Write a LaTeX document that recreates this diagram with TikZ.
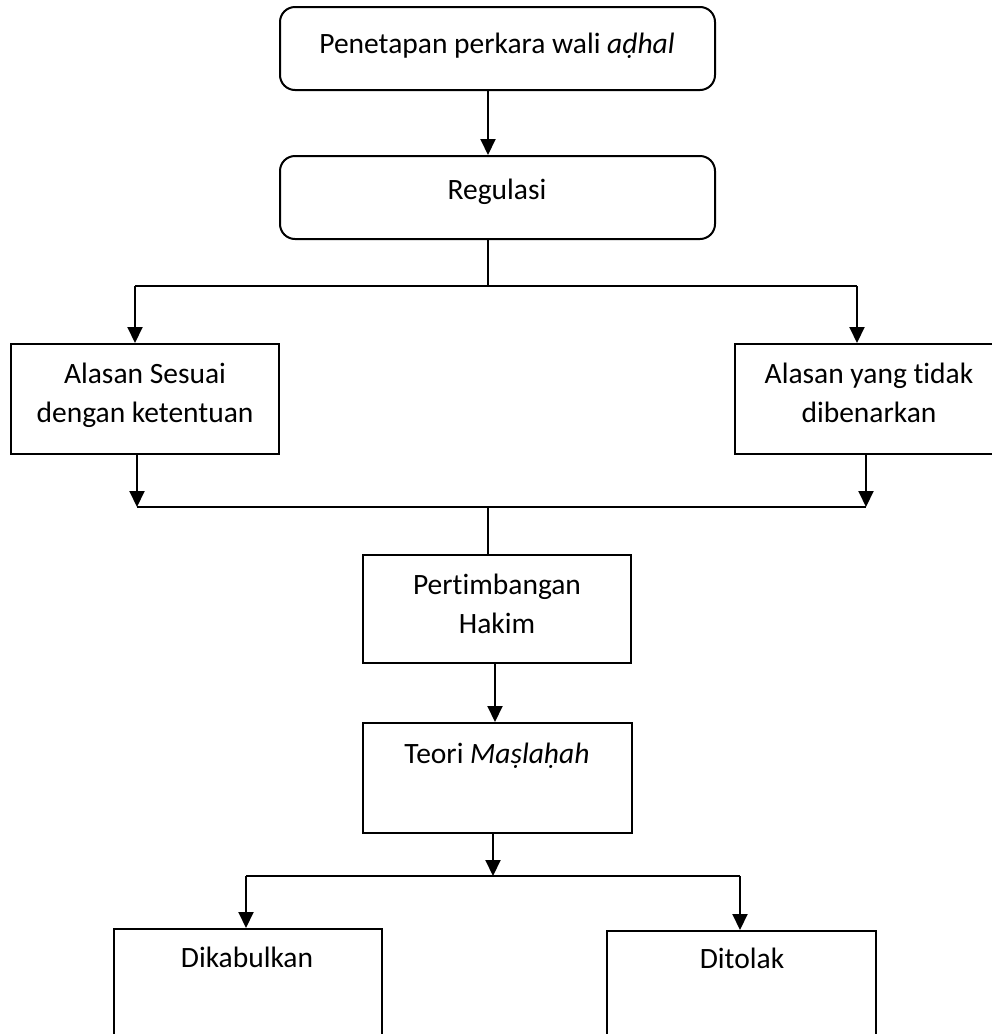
\documentclass[tikz,border=0pt]{standalone}
\usepackage{fontspec}
\setmainfont{Carlito}[Ligatures=NoCommon]
\usetikzlibrary{arrows.meta}
\tikzset{
  box/.style={draw, line width=2pt, inner sep=0pt, minimum width=268pt, minimum height=110pt},
  rbox/.style={draw, line width=2pt, rounded corners=15pt, inner sep=0pt, minimum width=435pt, minimum height=83pt},
  conn/.style={line width=2pt},
  arr/.style={conn, -{Triangle[length=16pt,width=15pt]}},
  lbl/.style={anchor=base, inner sep=0pt, align=center, font=\fontsize{29.5}{39}\selectfont},
}
\begin{document}
\begin{tikzpicture}[x=1pt,y=-1pt]
\clip (0,0) rectangle (992,1034);
\fill[white] (0,0) rectangle (992,1034);
% boxes
\node[rbox] (b1) at (497.5,48.5) {};
\node[rbox] (b2) at (497.5,197.5) {};
\node[box] (b3) at (145,399) {};
\node[box] (b4) at (869,399) {};
\node[box, minimum height=108pt] (b5) at (497,609) {};
\node[box, minimum width=269pt] (b6) at (497.5,778) {};
\node[box] (b7) at (248,984) {};
\node[box, minimum width=269pt] (b8) at (741.5,986) {};
% labels (multi-line labels are anchored at the baseline of their last line)
\node[lbl] (t1) at (497,53) {Penetapan perkara wali \textit{aḍhal}};
\node[lbl] (t2) at (497,199) {Regulasi};
\node[lbl] (t3) at (145,422) {Alasan Sesuai\\dengan ketentuan};
\node[lbl] (t4) at (869,422) {Alasan yang tidak\\dibenarkan};
\node[lbl] (t5) at (497,633) {Pertimbangan\\Hakim};
\node[lbl] (t6) at (497,763) {Teori \textit{Maṣlaḥah}};
\node[lbl] (t7) at (247,967) {Dikabulkan};
\node[lbl] (t8) at (742,968) {Ditolak};
% junction coordinates
\coordinate (xm) at (488,0);
\coordinate (j1) at (488,286);
\coordinate (j1l) at (135,286);
\coordinate (j1r) at (857,286);
\coordinate (j2) at (488,507);
\coordinate (j2l) at (137,507);
\coordinate (j2r) at (866,507);
\coordinate (x2) at (495,0);
\coordinate (j3) at (493,876);
\coordinate (j3l) at (246,876);
\coordinate (j3r) at (740,876);
% connectors
\draw[arr] (b1.south -| xm) -- (b2.north -| xm);
\draw[conn] (b2.south -| j1) -- (j1);
\draw[conn] (j1l) -- (j1r);
\draw[arr] (j1l) -- (b3.north -| j1l);
\draw[arr] (j1r) -- (b4.north -| j1r);
\draw[arr] (b3.south -| j2l) -- (j2l);
\draw[arr] (b4.south -| j2r) -- (j2r);
\draw[conn] (j2l) -- (j2r);
\draw[conn] (j2) -- (b5.north -| j2);
\draw[arr] (b5.south -| x2) -- (b6.north -| x2);
\draw[arr] (b6.south -| j3) -- (j3);
\draw[conn] (j3l) -- (j3r);
\draw[arr] (j3l) -- (b7.north -| j3l);
\draw[arr] (j3r) -- (b8.north -| j3r);
\end{tikzpicture}
\end{document}
